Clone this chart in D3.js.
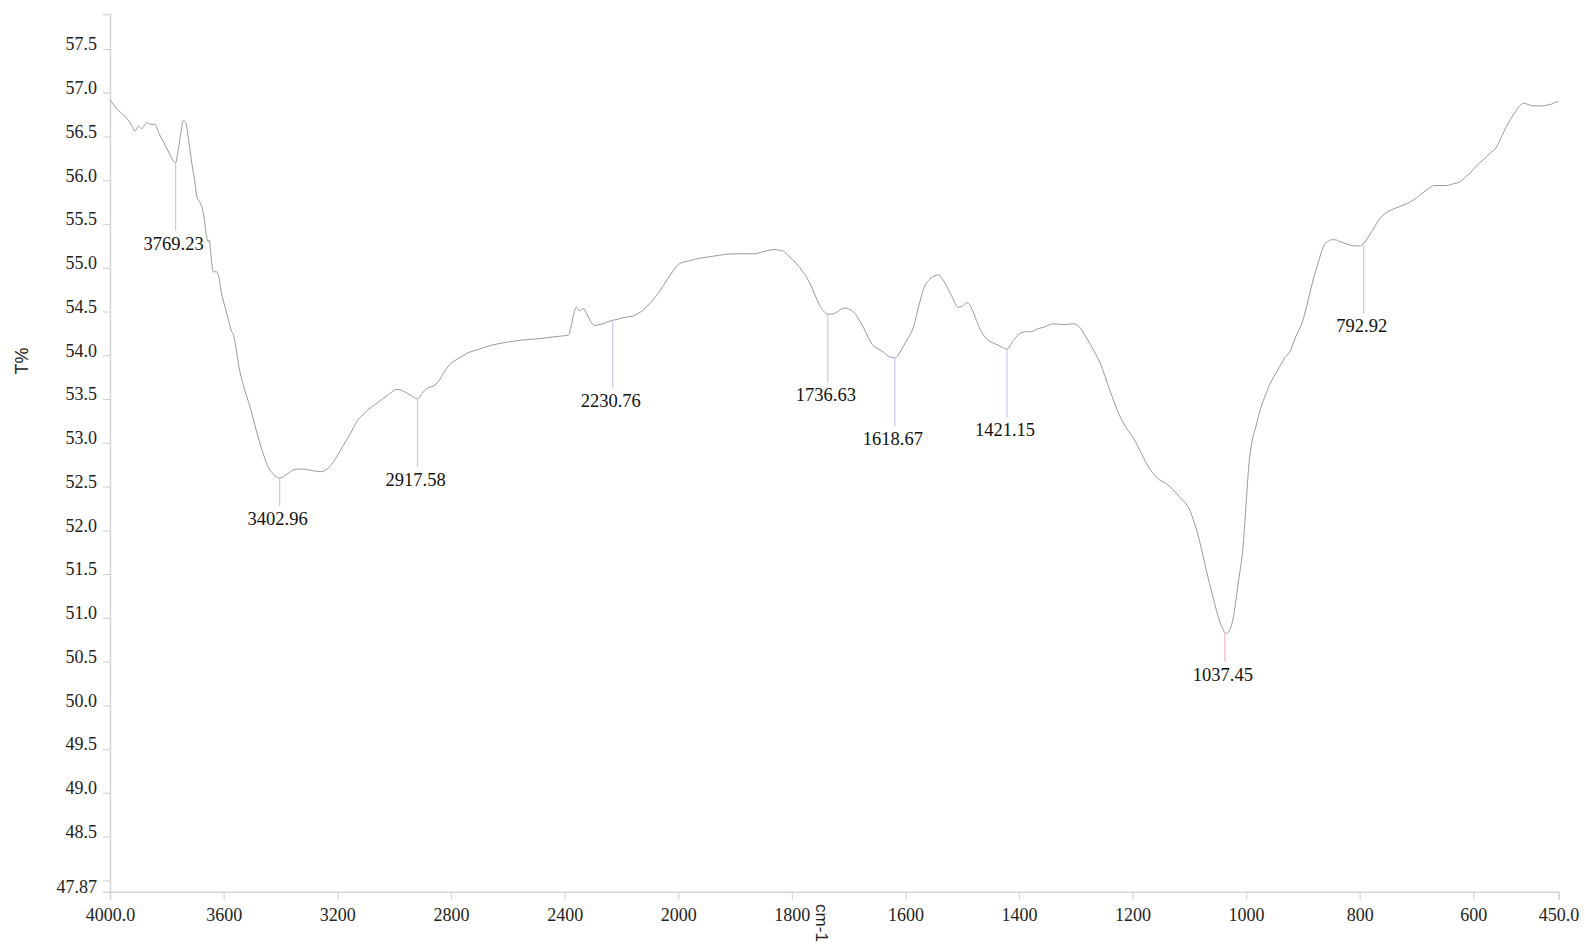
<!DOCTYPE html>
<html>
<head>
<meta charset="utf-8">
<script src="https://cdn.jsdelivr.net/npm/d3@7"></script>
<style>
  html, body { margin: 0; padding: 0; background: #ffffff; }
  svg { display: block; }
</style>
</head>
<body>
<svg id="chart" width="1585" height="948"></svg>
<script>
// ---- DATA ----
const wavenumbers = [
  4000, 3971, 3947, 3924, 3912, 3900, 3888, 3871, 3859, 3842, 3827, 3812, 3790, 3777, 3769,
  3760, 3750, 3742, 3734, 3725, 3712, 3700, 3695, 3684, 3677, 3668, 3660, 3655, 3651, 3645,
  3636, 3628, 3619, 3607, 3595, 3583, 3572, 3566, 3555, 3548, 3530, 3507, 3490, 3472, 3455,
  3443, 3430, 3419, 3403, 3390, 3378, 3365, 3355, 3335, 3320, 3300, 3285, 3255, 3240, 3226,
  3200, 3179, 3155, 3132, 3110, 3091, 3070, 3050, 3020, 2991, 2975, 2962, 2940, 2918, 2900,
  2885, 2870, 2856, 2840, 2827, 2803, 2775, 2745, 2700, 2663, 2620, 2581, 2530, 2487, 2440,
  2410, 2387, 2378, 2370, 2362, 2358, 2352, 2346, 2338, 2332, 2325, 2317, 2305, 2293, 2280,
  2264, 2250, 2231, 2215, 2194, 2175, 2158, 2140, 2123, 2095, 2064, 2040, 2017, 2005, 1997,
  1980, 1962, 1940, 1921, 1900, 1880, 1865, 1853, 1840, 1830, 1822, 1815, 1805, 1792, 1780,
  1768, 1760, 1751, 1745, 1736, 1730, 1724, 1715, 1706, 1700, 1692, 1683, 1674, 1665, 1657,
  1650, 1642, 1630, 1619, 1611, 1604, 1595, 1586, 1577, 1568, 1557, 1548, 1542, 1536, 1530,
  1518, 1507, 1500, 1491, 1483, 1475, 1468, 1457, 1442, 1432, 1421, 1410, 1395, 1385, 1378,
  1368, 1357, 1339, 1322, 1304, 1293, 1284, 1275, 1257, 1240, 1222, 1210, 1198, 1186, 1175,
  1165, 1157, 1140, 1128, 1117, 1108, 1099, 1093, 1087, 1078, 1070, 1060, 1052, 1045, 1040,
  1037, 1032, 1027, 1022, 1018, 1012, 1006, 1000, 995, 990, 983, 975, 965, 956, 948,
  941, 932, 923, 912, 900, 890, 882, 872, 864, 856, 850, 843, 835, 822, 809,
  800, 794, 785, 777, 768, 759, 745, 729, 718, 706, 694, 682, 668, 655, 647,
  635, 624, 615, 606, 595, 583, 570, 559, 550, 542, 533, 524, 518, 512, 505,
  495, 485, 477, 470, 462, 455, 450
];
const transmittance = [
  56.92, 56.80, 56.73, 56.63, 56.56, 56.62, 56.59, 56.66, 56.64, 56.64, 56.53, 56.44, 56.30, 56.22, 56.20,
  56.35, 56.55, 56.68, 56.66, 56.50, 56.19, 55.95, 55.82, 55.75, 55.70, 55.55, 55.35, 55.30, 55.32, 55.15,
  54.95, 54.96, 54.92, 54.70, 54.55, 54.40, 54.27, 54.24, 54.05, 53.90, 53.65, 53.41, 53.20, 52.99, 52.82,
  52.72, 52.66, 52.62, 52.60, 52.61, 52.64, 52.67, 52.69, 52.70, 52.70, 52.69, 52.68, 52.67, 52.69, 52.73,
  52.85, 52.97, 53.10, 53.24, 53.32, 53.38, 53.43, 53.48, 53.55, 53.61, 53.60, 53.58, 53.54, 53.50, 53.57,
  53.62, 53.64, 53.66, 53.72, 53.79, 53.90, 53.96, 54.02, 54.07, 54.11, 54.14, 54.16, 54.18, 54.19, 54.21,
  54.22, 54.23, 54.32, 54.44, 54.54, 54.55, 54.52, 54.51, 54.53, 54.53, 54.49, 54.44, 54.37, 54.34, 54.35,
  54.36, 54.38, 54.40, 54.41, 54.43, 54.44, 54.45, 54.48, 54.52, 54.61, 54.74, 54.86, 54.97, 55.02, 55.05,
  55.08, 55.11, 55.13, 55.15, 55.16, 55.16, 55.16, 55.18, 55.20, 55.21, 55.20, 55.19, 55.13, 55.05, 54.95,
  54.82, 54.70, 54.57, 54.51, 54.47, 54.47, 54.48, 54.52, 54.54, 54.53, 54.50, 54.42, 54.32, 54.20, 54.11,
  54.08, 54.05, 53.99, 53.97, 54.02, 54.10, 54.20, 54.32, 54.55, 54.76, 54.87, 54.91, 54.92, 54.88, 54.82,
  54.67, 54.55, 54.56, 54.60, 54.53, 54.40, 54.29, 54.19, 54.13, 54.10, 54.07, 54.17, 54.26, 54.27, 54.27,
  54.30, 54.32, 54.36, 54.35, 54.36, 54.32, 54.23, 54.13, 53.91, 53.60, 53.30, 53.16, 53.05, 52.90, 52.76,
  52.66, 52.60, 52.53, 52.46, 52.38, 52.32, 52.23, 52.12, 52.00, 51.77, 51.54, 51.28, 51.08, 50.93, 50.86,
  50.82, 50.83, 50.89, 51.02, 51.20, 51.48, 51.77, 52.30, 52.76, 53.00, 53.18, 53.38, 53.56, 53.70, 53.79,
  53.87, 53.97, 54.04, 54.22, 54.40, 54.65, 54.86, 55.08, 55.24, 55.30, 55.32, 55.32, 55.30, 55.27, 55.25,
  55.25, 55.27, 55.35, 55.43, 55.53, 55.60, 55.66, 55.70, 55.73, 55.77, 55.83, 55.89, 55.94, 55.94, 55.94,
  55.96, 55.98, 56.03, 56.08, 56.16, 56.23, 56.31, 56.38, 56.50, 56.61, 56.71, 56.80, 56.85, 56.88, 56.87,
  56.85, 56.85, 56.85, 56.86, 56.87, 56.89, 56.90
];

const peakWavenumbers = [3769.23, 3402.96, 2917.58, 2230.76, 1736.63, 1618.67, 1421.15, 1037.45, 792.92];
const peakTransmittance = [56.20, 52.60, 53.50, 54.40, 54.47, 53.97, 54.07, 50.82, 55.26];
const peakLabels = ["3769.23", "3402.96", "2917.58", "2230.76", "1736.63", "1618.67", "1421.15", "1037.45", "792.92"];
const peakStrong = [false, true, false, false, false, false, false, true, false];

const xTickValues = [4000, 3600, 3200, 2800, 2400, 2000, 1800, 1600, 1400, 1200, 1000, 800, 600, 450];
const xTickLabels = ["4000.0", "3600", "3200", "2800", "2400", "2000", "1800", "1600", "1400", "1200", "1000", "800", "600", "450.0"];
const yTickValues = [48.0, 48.5, 49.0, 49.5, 50.0, 50.5, 51.0, 51.5, 52.0, 52.5, 53.0, 53.5, 54.0, 54.5, 55.0, 55.5, 56.0, 56.5, 57.0, 57.5];
const yMin = 47.87, yMax = 57.9;
const xTitle = "cm-1";
const yTitle = "T%";

(function () {
  const svg = d3.select("#chart");
  const mLeft = 110, mRight = 1558.4, mTop = 14, mBottom = 891.7;
  const x = d3.scaleLinear().domain([4000, 2000, 450]).range([mLeft, 678.3, mRight]);
  const y = d3.scaleLinear().domain([yMin, yMax]).range([mBottom, mTop]);

  const axisColor = "#d4d4d4";
  const serif = "'Liberation Serif', 'Times New Roman', serif";
  const sans = "'Liberation Sans', Arial, sans-serif";

  // y axis
  const yAxis = d3.axisLeft(y).tickValues(yTickValues).tickSize(7).tickPadding(6)
    .tickFormat(d => d === 48.0 ? "" : d.toFixed(1));
  const gy = svg.append("g").attr("transform", `translate(${mLeft},0)`).call(yAxis);
  gy.select(".domain").attr("stroke", axisColor).attr("stroke-width", 1.5);
  gy.selectAll(".tick line").attr("stroke", axisColor).attr("stroke-width", 1.2);
  gy.selectAll(".tick text").attr("font-family", serif).attr("font-size", 18).attr("fill", "#222")
    .attr("dy", "0.05em");
  svg.append("text").attr("x", mLeft - 13).attr("y", y(yMin)).attr("dy", "0.05em")
    .attr("text-anchor", "end").attr("font-family", serif).attr("font-size", 18).attr("fill", "#222")
    .text(yMin.toFixed(2));

  // x axis
  const xAxis = d3.axisBottom(x).tickValues(xTickValues).tickSize(8).tickPadding(9)
    .tickFormat((d, i) => xTickLabels[i]);
  const gx = svg.append("g").attr("transform", `translate(0,${mBottom})`).call(xAxis);
  gx.select(".domain").attr("stroke", axisColor).attr("stroke-width", 1.5);
  gx.selectAll(".tick line").attr("stroke", axisColor).attr("stroke-width", 1.2);
  gx.selectAll(".tick text").attr("font-family", serif).attr("font-size", 18).attr("fill", "#222");

  // axis titles
  svg.append("text").attr("transform", `translate(816,923) rotate(90)`)
    .attr("text-anchor", "middle").attr("font-family", sans).attr("font-size", 17).attr("fill", "#222")
    .text(xTitle);
  svg.append("text").attr("transform", `translate(28,361) rotate(-90)`)
    .attr("text-anchor", "middle").attr("font-family", sans).attr("font-size", 18).attr("fill", "#222")
    .text(yTitle);

  // spectrum
  const pts = wavenumbers.map((w, i) => [w, transmittance[i]]);
  const line = d3.line().x(d => x(d[0])).y(d => y(d[1])).curve(d3.curveMonotoneX);
  svg.append("path").datum(pts).attr("d", line)
    .attr("fill", "none").attr("stroke", "#9a9a9a").attr("stroke-width", 1);

  // peak markers
  const peaks = peakWavenumbers.map((w, i) => ({w, t: peakTransmittance[i], label: peakLabels[i], strong: peakStrong[i]}));
  const pg = svg.append("g");
  peaks.forEach(p => {
    const px = x(p.w), py = y(p.t);
    const len = p.strong ? 28 : 68;
    pg.append("line").attr("x1", px).attr("x2", px).attr("y1", py).attr("y2", py + len)
      .attr("stroke", p.strong ? "#f2b8bd" : "#c6c8f0").attr("stroke-width", 1.2);
    pg.append("text").attr("x", px - 2).attr("y", py + len + 19)
      .attr("text-anchor", "middle").attr("font-family", serif).attr("font-size", 18.5).attr("fill", "#111")
      .text(p.label);
  });
})();
</script>
</body>
</html>
